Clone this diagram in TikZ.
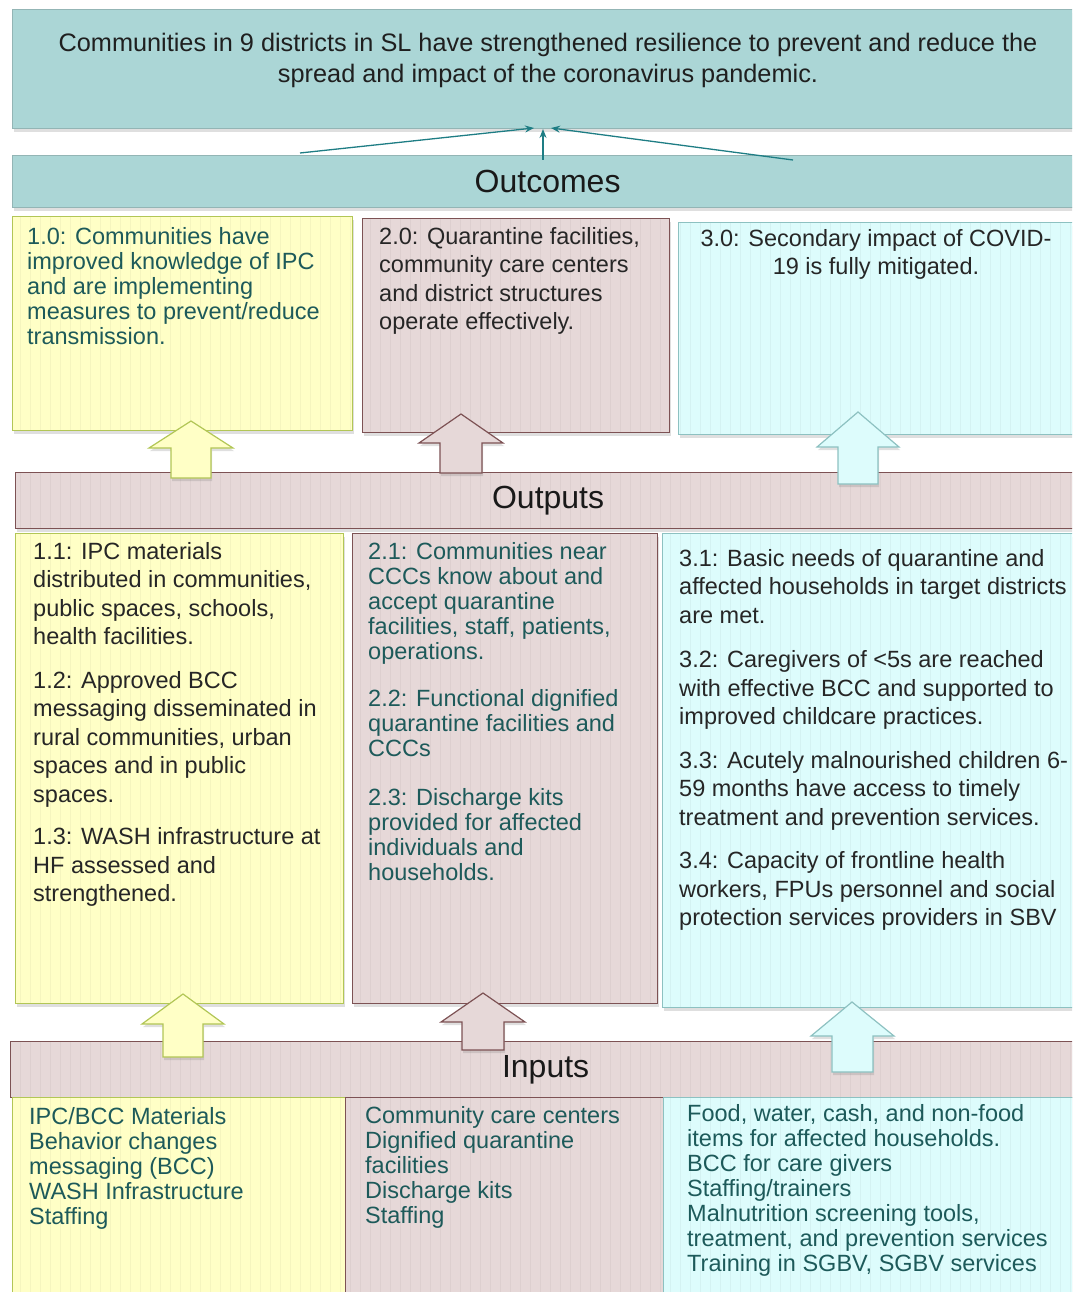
\documentclass[tikz,border=0pt]{standalone}
\usepackage{fontspec}
\setmainfont{Liberation Sans}
\usetikzlibrary{positioning,shadows,patterns.meta,arrows.meta}

\definecolor{tealfill}{HTML}{ABD6D6}
\definecolor{tealline}{HTML}{93B5B5}
\definecolor{yelfill}{HTML}{FFFFC6}
\definecolor{yelline}{HTML}{B2C656}
\definecolor{pinkfill}{HTML}{E6D8D8}
\definecolor{pinkline}{HTML}{7D5254}
\definecolor{cyanfill}{HTML}{DDFCFC}
\definecolor{cyanline}{HTML}{8DC1C1}
\definecolor{darkteal}{HTML}{1D5A5A}
\definecolor{arrowteal}{HTML}{1E7D84}

\tikzset{
  box/.style={draw, line width=1.2pt, inner sep=0pt, anchor=north west,
    drop shadow={opacity=0.25, shadow xshift=1pt, shadow yshift=-3pt}},
  tealbox/.style={box, fill=tealfill, draw=tealline},
  yelbox/.style={box, draw=yelline, preaction={fill=yelfill,
    postaction={pattern={Lines[angle=90,distance=10pt,line width=1pt]}, pattern color=yelfill!96!black}}},
  pinkbox/.style={box, draw=pinkline, preaction={fill=pinkfill,
    postaction={pattern={Lines[angle=90,distance=10pt,line width=1pt]}, pattern color=pinkfill!96!black}}},
  cyanbox/.style={box, draw=cyanline, preaction={fill=cyanfill,
    postaction={pattern={Lines[angle=90,distance=10pt,line width=1pt]}, pattern color=cyanfill!96!black}}},
  bartxt/.style={font=\fontsize{32}{36}\selectfont, text=black!90},
  bodytxt/.style={inner sep=0pt, anchor=north west, align=left, text=black!85,
    font=\fontsize{23.5}{28.5}\selectfont},
  tealtxt/.style={bodytxt, text=darkteal, font=\fontsize{23.5}{25}\selectfont},
  yelarrow/.style={fill=yelfill, draw=yelline, line width=1.2pt,
    drop shadow={opacity=0.25, shadow xshift=1pt, shadow yshift=-3pt}},
  pinkarrow/.style={yelarrow, fill=pinkfill, draw=pinkline},
  cyanarrow/.style={yelarrow, fill=cyanfill, draw=cyanline},
  thinarrow/.style={draw=arrowteal, line width=1.3pt, -{Stealth[length=9pt,width=7pt]}}
}

\begin{document}
\begin{tikzpicture}[x=1pt, y=-1pt]
  \useasboundingbox (0,0) rectangle (1072,1292);
  \clip (0,0) rectangle (1072,1292);

  % goal
  \node[tealbox, minimum width=1070pt, minimum height=119pt] (goal) at (12,9) {};
  \node[align=center, inner sep=0pt, text=black!88, font=\fontsize{25.3}{31}\selectfont] (goaltxt) at (548,60)
    {Communities in 9 districts in SL have strengthened resilience to prevent and reduce the\\
     spread and impact of the coronavirus pandemic.};

  % outcomes
  \node[tealbox, bartxt, minimum width=1070pt, minimum height=52pt] (outc) at (12,155) {Outcomes};
  \node[yelbox, minimum width=340pt, minimum height=214pt] (oc1) at (12,216) {};
  \node[pinkbox, minimum width=307pt, minimum height=214pt] (oc2) at (362,218) {};
  \node[cyanbox, minimum width=400pt, minimum height=212pt] (oc3) at (678,222) {};
  \node[tealtxt, below right=11pt and 15pt of oc1.north west] (oc1txt)
    {1.0: Communities have\\ improved knowledge of IPC\\ and are implementing\\
     measures to prevent/reduce\\ transmission.};
  \node[bodytxt, below right=9pt and 17pt of oc2.north west] (oc2txt)
    {2.0: Quarantine facilities,\\ community care centers\\ and district structures\\ operate effectively.};
  \node[bodytxt, align=center, anchor=north] (oc3txt) at (876,229)
    {3.0: Secondary impact of COVID-\\ 19 is fully mitigated.};

  % outputs
  \node[pinkbox, bartxt, minimum width=1065pt, minimum height=56pt] (outp) at (15,472) {Outputs};
  \node[yelbox, minimum width=328pt, minimum height=470pt] (op1) at (15,533) {};
  \node[pinkbox, minimum width=305pt, minimum height=470pt] (op2) at (352,533) {};
  \node[cyanbox, minimum width=420pt, minimum height=474pt] (op3) at (662,533) {};
  \node[bodytxt, below right=9pt and 18pt of op1.north west] (op1txt)
    {1.1: IPC materials\\ distributed in communities,\\ public spaces, schools,\\ health facilities.\\[15pt]
     1.2: Approved BCC\\ messaging disseminated in\\ rural communities, urban\\ spaces and in public\\ spaces.\\[14pt]
     1.3: WASH infrastructure at\\ HF assessed and\\ strengthened.};
  \node[tealtxt, below right=9pt and 16pt of op2.north west] (op2txt)
    {2.1: Communities near\\ CCCs know about and\\ accept quarantine\\ facilities, staff, patients,\\ operations.\\[22pt]
     2.2: Functional dignified\\ quarantine facilities and\\ CCCs\\[24pt]
     2.3: Discharge kits\\ provided for affected\\ individuals and\\ households.};
  \node[bodytxt, below right=16pt and 17pt of op3.north west] (op3txt)
    {3.1: Basic needs of quarantine and\\ affected households in target districts\\ are met.\\[16pt]
     3.2: Caregivers of <5s are reached\\ with effective BCC and supported to\\ improved childcare practices.\\[15pt]
     3.3: Acutely malnourished children 6-\\ 59 months have access to timely\\ treatment and prevention services.\\[15pt]
     3.4: Capacity of frontline health\\ workers, FPUs personnel and social\\ protection services providers in SBV};

  % inputs
  \node[pinkbox, bartxt, minimum width=1070pt, minimum height=56pt] (inp) at (10,1041) {Inputs};
  \node[yelbox, minimum width=333pt, minimum height=220pt] (in1) at (12,1097) {};
  \node[pinkbox, minimum width=318pt, minimum height=220pt] (in2) at (345,1097) {};
  \node[cyanbox, minimum width=420pt, minimum height=220pt] (in3) at (663,1097) {};
  \node[tealtxt, below right=10pt and 17pt of in1.north west] (in1txt)
    {IPC/BCC Materials\\ Behavior changes\\ messaging (BCC)\\ WASH Infrastructure\\ Staffing};
  \node[tealtxt, below right=9pt and 20pt of in2.north west] (in2txt)
    {Community care centers\\ Dignified quarantine\\ facilities\\ Discharge kits\\ Staffing};
  \node[tealtxt, below right=7pt and 24pt of in3.north west] (in3txt)
    {Food, water, cash, and non-food\\ items for affected households.\\ BCC for care givers\\ Staffing/trainers\\
     Malnutrition screening tools,\\ treatment, and prevention services\\ Training in SGBV, SGBV services};

  % outcomes -> goal
  \coordinate (fromL) at (300,153);
  \coordinate (fromC) at (543,160);
  \coordinate (fromR) at (793,160);
  \coordinate (toL) at (534,128);
  \coordinate (toC) at (543,129);
  \coordinate (toR) at (551,128);
  \draw[thinarrow] (fromL) -- (toL);
  \draw[thinarrow] (fromC) -- (toC);
  \draw[thinarrow] (fromR) -- (toR);

  % block arrows
  \draw[yelarrow] (191,421) -- ++(42,27) -- ++(-22,0) -- ++(0,30) -- ++(-40,0) -- ++(0,-30) -- ++(-22,0) -- cycle;
  \draw[pinkarrow] (461,414) -- ++(42,29) -- ++(-21,0) -- ++(0,30) -- ++(-42,0) -- ++(0,-30) -- ++(-21,0) -- cycle;
  \draw[cyanarrow] (858,412) -- ++(41,35) -- ++(-21,0) -- ++(0,37) -- ++(-40,0) -- ++(0,-37) -- ++(-21,0) -- cycle;
  \draw[yelarrow] (183,994) -- ++(41,30) -- ++(-21,0) -- ++(0,33) -- ++(-40,0) -- ++(0,-33) -- ++(-21,0) -- cycle;
  \draw[pinkarrow] (483,993) -- ++(42,29) -- ++(-21,0) -- ++(0,28) -- ++(-42,0) -- ++(0,-28) -- ++(-21,0) -- cycle;
  \draw[cyanarrow] (852,1002) -- ++(42,34) -- ++(-21,0) -- ++(0,36) -- ++(-41,0) -- ++(0,-36) -- ++(-21,0) -- cycle;
\end{tikzpicture}
\end{document}
